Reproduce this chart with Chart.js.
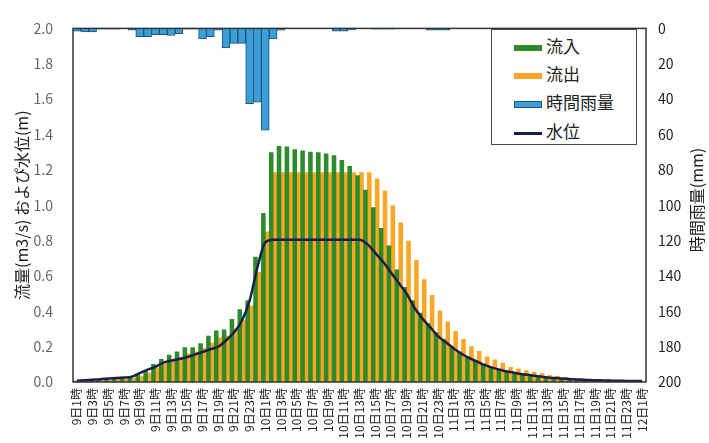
<!DOCTYPE html>
<html lang="ja">
<head>
  <meta charset="UTF-8">
  <title>流量・水位・時間雨量</title>
  <script src="https://cdn.jsdelivr.net/npm/chart.js"></script>
  <style>
      body { margin: 0; background: #fff; font-family: "Noto Sans CJK JP", sans-serif; }
      #wrap { position: relative; width: 709px; height: 443px; }
      #legend { position: absolute; left: 491px; top: 29px; width: 144px; height: 114px;
                border: 1.5px solid #444; background: #fff; }
      .item { position: absolute; left: 22px; font-size: 17px; line-height: 20px; color: #222; }
      .sw { display: inline-block; width: 28px; height: 6px; margin-right: 4px; vertical-align: middle; }
  </style>
</head>
<body>
  <div id="wrap">
    <canvas id="myChart" width="709" height="443"></canvas>
    <div id="legend">
      <div class="item" style="top:6px"><span class="sw" style="background:#2e8b2a"></span>流入</div>
      <div class="item" style="top:34px"><span class="sw" style="background:#ffa526"></span>流出</div>
      <div class="item" style="top:62px"><span class="sw" style="background:#3a9fd6;border:1px solid #1f4f7a;height:5px;width:26px"></span>時間雨量</div>
      <div class="item" style="top:91px"><span class="sw" style="background:#1c1c4e;height:3px"></span>水位</div>
    </div>
  </div>

  <script>
    // hourly categories, 9日1時 .. 12日1時
    const hours = [
      "9日1時","9日2時","9日3時","9日4時","9日5時","9日6時","9日7時","9日8時","9日9時","9日10時",
      "9日11時","9日12時","9日13時","9日14時","9日15時","9日16時","9日17時","9日18時","9日19時","9日20時",
      "9日21時","9日22時","9日23時","9日24時",
      "10日1時","10日2時","10日3時","10日4時","10日5時","10日6時","10日7時","10日8時","10日9時","10日10時",
      "10日11時","10日12時","10日13時","10日14時","10日15時","10日16時","10日17時","10日18時","10日19時","10日20時",
      "10日21時","10日22時","10日23時","10日24時",
      "11日1時","11日2時","11日3時","11日4時","11日5時","11日6時","11日7時","11日8時","11日9時","11日10時",
      "11日11時","11日12時","11日13時","11日14時","11日15時","11日16時","11日17時","11日18時","11日19時","11日20時",
      "11日21時","11日22時","11日23時","11日24時",
      "12日1時"
    ];

    // 流入 (m3/s)
    const inflow = [
      0.005, 0.008, 0.01, 0.012, 0.015, 0.018, 0.02, 0.025, 0.04, 0.065,
      0.10, 0.128, 0.152, 0.17, 0.195, 0.195, 0.218, 0.26, 0.29, 0.295,
      0.355, 0.41, 0.46, 0.706, 0.954, 1.297, 1.333, 1.33, 1.315, 1.308,
      1.30, 1.297, 1.29, 1.28, 1.254, 1.22, 1.167, 1.086, 0.986, 0.869,
      0.77, 0.634, 0.535, 0.46, 0.39, 0.33, 0.28, 0.24, 0.20, 0.17,
      0.145, 0.12, 0.10, 0.085, 0.072, 0.062, 0.053, 0.045, 0.038, 0.033,
      0.028, 0.024, 0.02, 0.017, 0.015, 0.013, 0.011, 0.01, 0.009, 0.008,
      0.007, 0.006, 0.005
    ];

    // 流出 (m3/s)
    const outflow = [
      0.004, 0.006, 0.008, 0.01, 0.012, 0.015, 0.017, 0.02, 0.03, 0.05,
      0.08, 0.105, 0.125, 0.14, 0.16, 0.17, 0.19, 0.22, 0.25, 0.26,
      0.30, 0.35, 0.43, 0.62, 0.85, 1.185, 1.185, 1.185, 1.185, 1.185,
      1.185, 1.185, 1.185, 1.185, 1.185, 1.185, 1.185, 1.185, 1.149, 1.08,
      0.996, 0.90, 0.797, 0.688, 0.58, 0.49, 0.403, 0.34, 0.287, 0.242,
      0.20, 0.173, 0.143, 0.125, 0.107, 0.083, 0.074, 0.065, 0.056, 0.047,
      0.038, 0.032, 0.026, 0.021, 0.017, 0.014, 0.011, 0.009, 0.007, 0.006,
      0.005, 0.004, 0.003
    ];

    // 時間雨量 (mm)
    const rain = [
      1.5, 2, 2, 0.5, 0.5, 0.5, 0, 1, 4.7, 4.7,
      3.5, 3.5, 4, 3, 0.5, 0.5, 6, 4.7, 1, 11,
      8.5, 8.5, 42.6, 41.7, 57.5, 6, 1, 0, 0, 0,
      0, 0, 0, 1.5, 1.5, 0.8, 0, 0, 0.5, 0.5,
      0.5, 0, 0, 0, 0, 1, 1, 1, 0, 0,
      0, 0, 0, 0, 0, 0, 0, 0, 0, 0,
      0, 0, 0, 0, 0, 0, 0, 0, 0, 0,
      0, 0, 0
    ];

    // 水位 (m)
    const level = [
      0.007, 0.01, 0.013, 0.016, 0.02, 0.022, 0.025, 0.03, 0.05, 0.07,
      0.085, 0.11, 0.12, 0.13, 0.14, 0.155, 0.17, 0.185, 0.20, 0.235,
      0.28, 0.345, 0.46, 0.65, 0.79, 0.805, 0.805, 0.805, 0.805, 0.805,
      0.805, 0.805, 0.805, 0.805, 0.805, 0.805, 0.805, 0.78, 0.73, 0.68,
      0.62, 0.56, 0.50, 0.42, 0.36, 0.31, 0.26, 0.225, 0.19, 0.16,
      0.135, 0.115, 0.095, 0.08, 0.068, 0.058, 0.05, 0.043, 0.037, 0.031,
      0.026, 0.022, 0.019, 0.016, 0.014, 0.012, 0.01, 0.009, 0.008, 0.007,
      0.006, 0.005, 0.005
    ];

    const FONT = '"Noto Sans CJK JP", sans-serif';

    // frame around the plot area + right axis title (reads bottom to top)
    const framePlugin = {
      id: 'frame',
      afterDraw(chart) {
        const { ctx, chartArea: a } = chart;
        ctx.save();
        ctx.strokeStyle = '#333';
        ctx.lineWidth = 1.5;
        ctx.strokeRect(a.left, a.top, a.right - a.left, a.bottom - a.top);
        ctx.translate(697, 200);
        ctx.rotate(-Math.PI / 2);
        ctx.fillStyle = '#222';
        ctx.font = '16px ' + FONT;
        ctx.textAlign = 'center';
        ctx.textBaseline = 'middle';
        ctx.fillText('時間雨量(mm)', 0, 0);
        ctx.restore();
      }
    };

    const ctx = document.getElementById('myChart').getContext('2d');
    const myChart = new Chart(ctx, {
      type: 'bar',
      data: {
        labels: hours,
        datasets: [
          { type: 'line', label: '水位', data: level, yAxisID: 'y', borderColor: '#1c1c4e',
            borderWidth: 2.5, pointRadius: 0, cubicInterpolationMode: 'monotone', order: 0 },
          { label: '時間雨量', data: rain, yAxisID: 'y2', grouped: false, backgroundColor: '#3a9fd6',
            borderColor: '#1f4f7a', borderWidth: 1, barPercentage: 1, categoryPercentage: 1, order: 1 },
          { label: '流入', data: inflow, yAxisID: 'y', backgroundColor: '#2e8b2a',
            barPercentage: 1, categoryPercentage: 1, order: 2 },
          { label: '流出', data: outflow, yAxisID: 'y', backgroundColor: '#ffa526',
            barPercentage: 1, categoryPercentage: 1, order: 2 }
        ]
      },
      options: {
        responsive: false,
        animation: false,
        layout: { padding: { top: 13, left: 0, right: 0, bottom: 0 } },
        plugins: { legend: { display: false }, tooltip: { enabled: false } },
        scales: {
          x: {
            offset: true,
            grid: { display: false, drawTicks: false },
            border: { display: false },
            afterFit: s => { s.height = 61; },
            ticks: {
              autoSkip: false, maxRotation: 90, minRotation: 90, padding: 6,
              font: { size: 12, family: FONT }, color: '#222',
              callback: (v, i) => i % 2 === 0 ? hours[i] : ''
            }
          },
          y: {
            position: 'left', min: 0, max: 2,
            grid: { display: false, drawTicks: false },
            border: { display: false },
            afterFit: s => { s.width = 73; },
            ticks: { stepSize: 0.2, padding: 20, color: '#666',
                     font: { size: 14, family: FONT },
                     callback: v => v.toFixed(1) },
            title: { display: true, text: '流量(m3/s) およぴ水位(m)', color: '#222',
                     font: { size: 16, family: FONT }, padding: { top: 12, bottom: 0 } }
          },
          y2: {
            position: 'right', min: 0, max: 200, reverse: true,
            grid: { display: false, drawTicks: false },
            border: { display: false },
            afterFit: s => { s.width = 63; },
            ticks: { stepSize: 20, padding: 12, color: '#222',
                     font: { size: 14, family: FONT } }
          }
        }
      },
      plugins: [framePlugin]
    });
  </script>
</body>
</html>
